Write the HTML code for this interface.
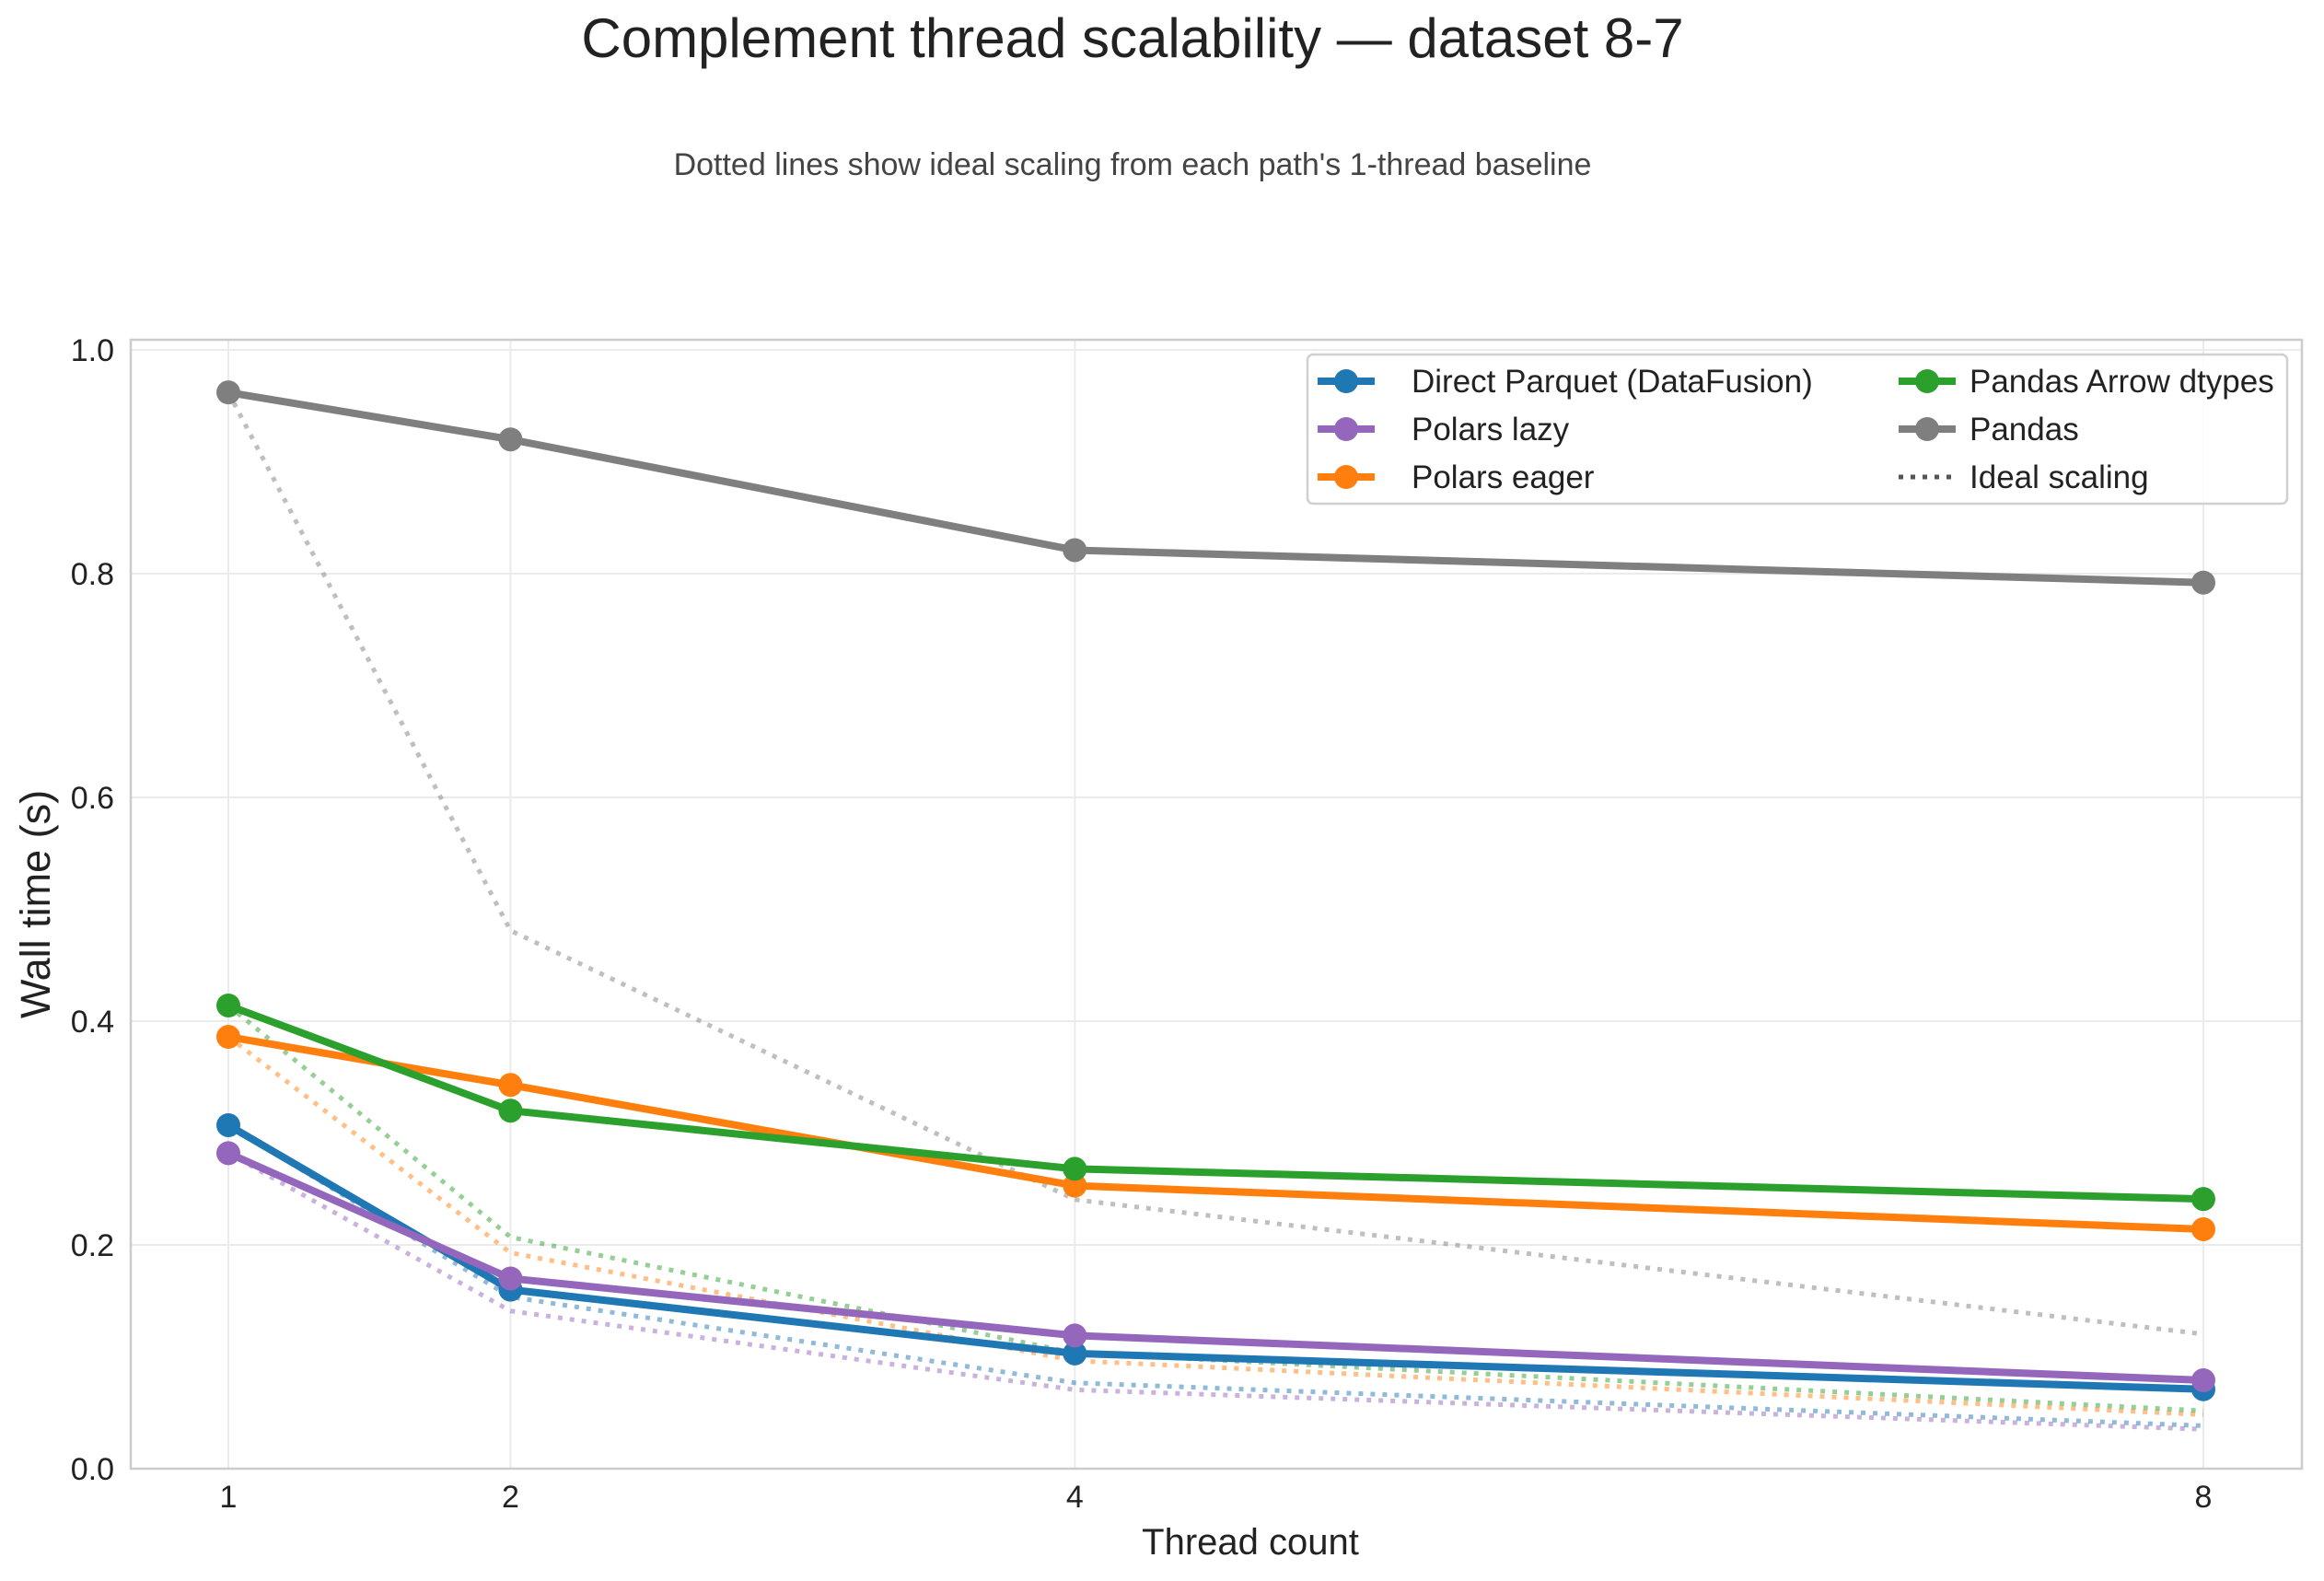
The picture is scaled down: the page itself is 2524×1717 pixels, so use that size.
<!DOCTYPE html>
<html><head><meta charset="utf-8"><style>
body{margin:0;background:#fff}
svg{display:block;font-family:"Liberation Sans",sans-serif}
</style></head><body>
<svg id="chart" width="2524" height="1717" xmlns="http://www.w3.org/2000/svg">
<rect width="2524" height="1717" fill="#fff"/>
<text x="1230" y="62" font-size="60" text-anchor="middle" fill="#222">Complement thread scalability — dataset 8-7</text>
<text x="1230" y="190" font-size="34" text-anchor="middle" fill="#444">Dotted lines show ideal scaling from each path's 1-thread baseline</text>
<g id="grid"></g>
<g id="ideal"></g>
<g id="series"></g>
<rect x="142" y="369" width="2358" height="1226" fill="none" stroke="#ccc" stroke-width="2.5"/>
<g id="ticks"></g>
<text x="1358" y="1688" font-size="40" text-anchor="middle" fill="#222">Thread count</text>
<text transform="translate(54,982) rotate(-90)" font-size="45" text-anchor="middle" fill="#222">Wall time (s)</text>
<g id="legend"></g>
</svg>
<script>
const threads = [1, 2, 4, 8];
const seriesNames = ["Direct Parquet (DataFusion)", "Polars lazy", "Polars eager", "Pandas Arrow dtypes", "Pandas"];
const seriesColors = ["#1f77b4", "#9467bd", "#ff7f0e", "#2ca02c", "#7f7f7f"];
const directParquet = [0.307, 0.160, 0.103, 0.071];
const polarsLazy = [0.282, 0.170, 0.119, 0.079];
const polarsEager = [0.386, 0.343, 0.253, 0.214];
const pandasArrow = [0.414, 0.320, 0.268, 0.241];
const pandas = [0.962, 0.920, 0.821, 0.792];
const yTicks = [0.0, 0.2, 0.4, 0.6, 0.8, 1.0];
const xTicks = [1, 2, 4, 8];
const seriesValues = [directParquet, polarsLazy, polarsEager, pandasArrow, pandas];

const NS = "http://www.w3.org/2000/svg";
const X0 = 248, X1 = 2393, Y0 = 1595, Y1 = 380;
const xs = v => X0 + (v - 1) / 7 * (X1 - X0);
const ys = v => Y0 - v * (Y0 - Y1);
function mk(tag, attrs, parent) {
  const e = document.createElementNS(NS, tag);
  for (const k in attrs) e.setAttribute(k, attrs[k]);
  parent.appendChild(e); return e;
}
const grid = document.getElementById('grid'), ticks = document.getElementById('ticks');
yTicks.forEach(t => {
  const l = mk('line', {x1: 142, x2: 2500, y1: ys(t), y2: ys(t), stroke: '#ebebeb', 'stroke-width': 2}, grid);
  
  
  const tx = mk('text', {x: 124, y: ys(t) + 12, 'font-size': 34, 'text-anchor': 'end', fill: '#222'}, ticks);
  tx.textContent = t.toFixed(1);
  
  
});
xTicks.forEach(t => {
  const l = mk('line', {x1: xs(t), x2: xs(t), y1: 369, y2: 1595, stroke: '#ebebeb', 'stroke-width': 2}, grid);
  
  
  const tx = mk('text', {x: xs(t), y: 1637, 'font-size': 34, 'text-anchor': 'middle', fill: '#222'}, ticks);
  tx.textContent = t;
  
  
});
const ideal = document.getElementById('ideal'), ser = document.getElementById('series');
seriesValues.forEach((vals, i) => {
  const ip = threads.map(t => xs(t) + ',' + ys(vals[0] / t)).join(' ');
  const il = mk('polyline', {points: ip, fill: 'none', stroke: seriesColors[i], 'stroke-width': 5, 'stroke-dasharray': '5 8', opacity: 0.5}, ideal);
  
  
});
seriesValues.forEach((vals, i) => {
  const g = mk('g', {}, ser);
  
  
  const p = mk('polyline', {points: threads.map((t, j) => xs(t) + ',' + ys(vals[j])).join(' '), fill: 'none', stroke: seriesColors[i], 'stroke-width': 8, 'stroke-linejoin': 'round'}, g);
  
  
  threads.forEach((t, j) => {
    const c = mk('circle', {cx: xs(t), cy: ys(vals[j]), r: 13, fill: seriesColors[i]}, g);
    
    
  });
});
const lg = document.getElementById('legend');
const box = mk('rect', {x: 1420, y: 385, width: 1064, height: 162, rx: 6, fill: '#fff', 'fill-opacity': 0.85, stroke: '#d0d0d0', 'stroke-width': 2.5}, lg);


const entries = seriesNames.map((n, i) => ({n, c: seriesColors[i]}));
const pos = [[1431, 414, 1533], [1431, 466, 1533], [1431, 518, 1533], [2062, 414, 2139], [2062, 466, 2139]];
entries.forEach((e, idx) => {
  const [x, y, tx0] = pos[idx];
  const g = mk('g', {}, lg);
  
  
  mk('line', {x1: x, x2: x + 62, y1: y, y2: y, stroke: e.c, 'stroke-width': 8}, g);
  mk('circle', {cx: x + 31, cy: y, r: 13, fill: e.c}, g);
  const t = mk('text', {x: tx0, y: y + 12, 'font-size': 35, fill: '#222'}, g);
  t.textContent = e.n;
});
const g6 = mk('g', {}, lg);


mk('line', {x1: 2062, x2: 2124, y1: 518, y2: 518, stroke: '#555', 'stroke-width': 5, 'stroke-dasharray': '5 8'}, g6);
const t6 = mk('text', {x: 2139, y: 530, 'font-size': 35, fill: '#222'}, g6);
t6.textContent = 'Ideal scaling';
</script>
</body></html>
